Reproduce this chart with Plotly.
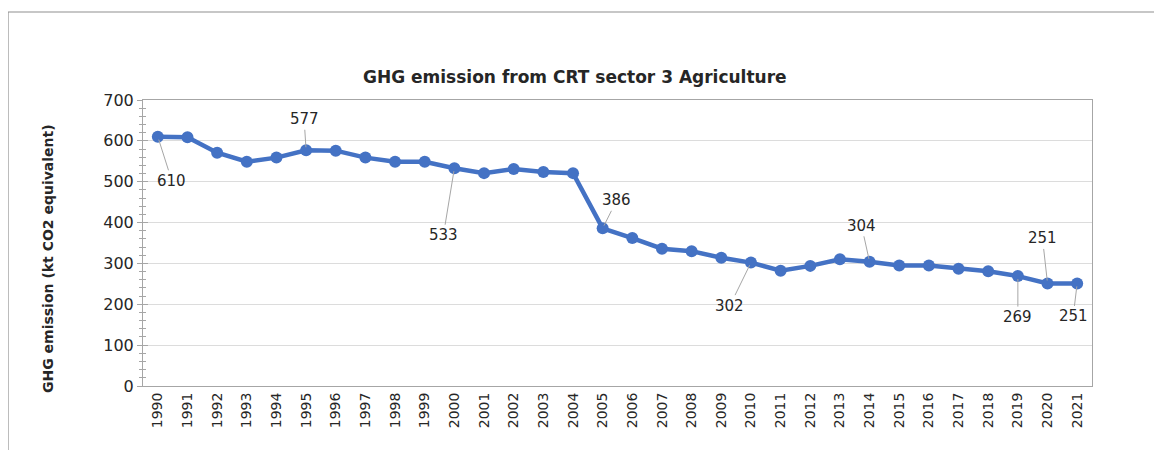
import plotly.graph_objects as go

years = [str(y) for y in range(1990, 2022)]
emissions = [610, 609, 571, 549, 559, 577, 576, 559, 549, 549,
             533, 521, 531, 524, 521, 386, 362, 336, 330, 314,
             302, 282, 294, 310, 304, 295, 295, 287, 281, 269,
             251, 251]

# labelled points: year, text offset (px) from the point
label_years = ["1990", "1995", "2000", "2005", "2010", "2014", "2019", "2020", "2021"]
label_dx = [14, -2, -11, 14, -21, -8, 0, -5, -4]
label_dy = [44, -31, 67, -28, 43, -36, 41, -45, 33]

title_text = "GHG emission from CRT sector 3 Agriculture"
ytitle_text = "GHG emission (kt CO2 equivalent)"

# the page body adds an 8px offset, so work in reference pixels minus 8
OFF = 8
W, H = 1162 - OFF, 450 - OFF
L, R, T, B = 143 - OFF, 1092 - OFF, 100 - OFF, 386 - OFF
pw, ph = R - L, B - T

def px(xp):
    return (xp - OFF - L) / pw

def py(yp):
    return (B - (yp - OFF)) / ph

FONT = "DejaVu Sans, Open Sans, sans-serif"

fig = go.Figure()
fig.add_trace(go.Scatter(
    x=years, y=emissions, mode="lines+markers",
    line=dict(color="#4472C4", width=4.5),
    marker=dict(color="#4472C4", size=12),
    hoverinfo="x+y", showlegend=False,
))
# carrier for the inner half of the crossing ticks
fig.add_trace(go.Scatter(
    x=years, y=emissions, yaxis="y2", mode="none",
    hoverinfo="skip", showlegend=False,
))

tickgray = "#a6a6a6"
fig.update_layout(
    width=W, height=H,
    margin=dict(l=L, r=W - R, t=T, b=H - B),
    paper_bgcolor="white", plot_bgcolor="white",
    font=dict(family=FONT, color="#404040"),
    xaxis=dict(
        type="category", range=[-0.5, len(years) - 0.5],
        showgrid=False, showline=True, mirror=True, linecolor=tickgray, linewidth=1,
        ticks="", tickangle=-90, tickfont=dict(size=14, color="#262626"),
        fixedrange=True,
    ),
    yaxis=dict(
        range=[0, 700], dtick=100, showgrid=True, gridcolor="#dcdcdc", gridwidth=1.4,
        showline=True, mirror=True, linecolor=tickgray, linewidth=1,
        ticks="outside", ticklen=5, tickcolor=tickgray, tickwidth=1,
        minor=dict(dtick=20, ticks="outside", ticklen=3, tickcolor=tickgray, showgrid=False),
        tickfont=dict(size=16, color="#262626"), zeroline=False,
    ),
    yaxis2=dict(
        range=[0, 700], dtick=100, overlaying="y", side="left", anchor="x",
        showgrid=False, showline=False, showticklabels=False, zeroline=False,
        ticks="inside", ticklen=5, tickcolor=tickgray, tickwidth=1,
        minor=dict(dtick=20, ticks="inside", ticklen=3, tickcolor=tickgray, showgrid=False),
    ),
)

# data labels with leader lines
for yr, dx, dy in zip(label_years, label_dx, label_dy):
    i = years.index(yr)
    v = emissions[i]
    fig.add_annotation(
        x=i, y=v, xref="x", yref="y", text=str(v),
        showarrow=True, arrowhead=0, arrowwidth=1, arrowcolor="#a6a6a6",
        ax=dx, ay=dy, standoff=3,
        font=dict(size=15, color="#262626"),
    )

# chart title
fig.add_annotation(
    x=px(575), y=py(77), xref="paper", yref="paper", text="<b>%s</b>" % title_text,
    showarrow=False, xanchor="center", yanchor="middle",
    font=dict(size=17, color="#262626"),
)
# y-axis title
fig.add_annotation(
    x=px(48), y=py(259), xref="paper", yref="paper", text="<b>%s</b>" % ytitle_text,
    showarrow=False, xanchor="center", yanchor="middle", textangle=-90,
    font=dict(size=14, color="#262626"),
)

# outer chart-area border (cropped in the original)
fig.add_shape(
    type="rect", xref="paper", yref="paper", layer="below",
    x0=px(8), x1=px(1180), y0=py(480), y1=py(12),
    line=dict(color="#8f8f8f", width=1.2), fillcolor="rgba(0,0,0,0)",
)

fig.write_html("out.html")
